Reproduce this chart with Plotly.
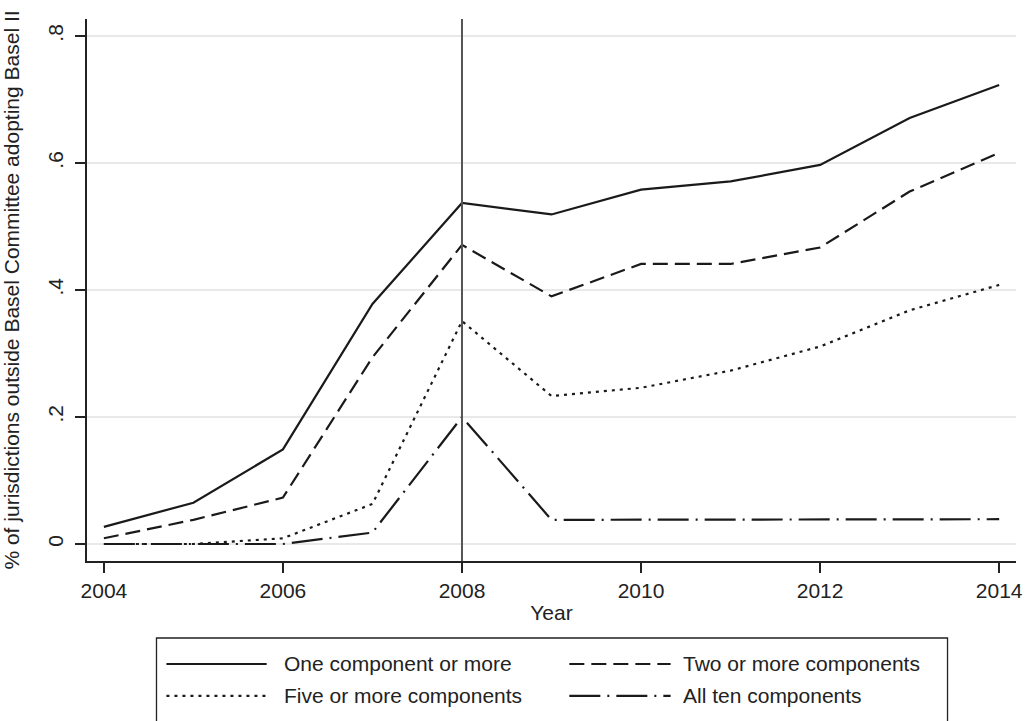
import plotly.graph_objects as go

years = [2004, 2005, 2006, 2007, 2008, 2009, 2010, 2011, 2012, 2013, 2014]
one_or_more = [0.027, 0.065, 0.149, 0.378, 0.537, 0.519, 0.558, 0.571, 0.597, 0.671, 0.723]
two_or_more = [0.009, 0.038, 0.073, 0.294, 0.471, 0.390, 0.441, 0.441, 0.467, 0.555, 0.616]
five_or_more = [0.0, 0.0, 0.009, 0.063, 0.351, 0.233, 0.246, 0.273, 0.311, 0.368, 0.408]
all_ten = [0.0, 0.0, 0.0, 0.018, 0.200, 0.038, 0.038, 0.038, 0.038, 0.039, 0.039]

series_names = ["One component or more", "Two or more components",
                "Five or more components", "All ten components"]
series_values = [one_or_more, two_or_more, five_or_more, all_ten]
dashes = ["solid", "15px,7px", "3px,5px", "31px,7px,2px,7px"]

x_ticks = [2004, 2006, 2008, 2010, 2012, 2014]
y_ticks = [0, 0.2, 0.4, 0.6, 0.8]
y_tick_labels = ["0", ".2", ".4", ".6", ".8"]
ref_year = 2008

FONT = "Liberation Sans, Arial, Helvetica, sans-serif"
INK = "#1a1a1a"
TXT = "#222222"

fig = go.Figure()
for name, vals, dash in zip(series_names, series_values, dashes):
    fig.add_trace(go.Scatter(x=years, y=vals, mode="lines", name=name,
                             line=dict(color=INK, width=2.2, dash=dash),
                             showlegend=False))

fig.add_shape(type="line", xref="x", yref="paper", x0=ref_year, x1=ref_year,
              y0=0, y1=1, line=dict(color="#555555", width=2))

# manual legend (Stata style box, 2 columns)
lx0, lx1, ly0, ly1 = 0.0748, 0.9263, -0.1421, -0.2970
fig.add_shape(type="rect", xref="paper", yref="paper", x0=lx0, x1=lx1, y0=ly0, y1=ly1,
              line=dict(color="#222222", width=1.3), fillcolor="rgba(0,0,0,0)")
cols = [(0.0855, 0.1934, 0.2094), (0.5192, 0.6282, 0.6389)]
rows = [-0.190, -0.249]
order = [(0, 0), (1, 0), (0, 1), (1, 1)]  # (col,row) for each series
for (ci, ri), name, dash in zip(order, series_names, dashes):
    a, b, t = cols[ci]
    yy = rows[ri]
    fig.add_shape(type="line", xref="paper", yref="paper", x0=a, x1=b, y0=yy, y1=yy,
                  line=dict(color=INK, width=2.2, dash=dash))
    fig.add_annotation(xref="paper", yref="paper", x=t, y=yy, text=name,
                       showarrow=False, xanchor="left", yanchor="middle",
                       font=dict(family=FONT, size=21, color=TXT))

fig.update_layout(
    width=1031, height=721,
    margin=dict(l=87, r=8, t=19, b=160),
    paper_bgcolor="white", plot_bgcolor="white",
    font=dict(family=FONT, size=21, color=TXT),
    showlegend=False,
    xaxis=dict(range=[2003.8115, 2014.188], tickvals=x_ticks,
               showgrid=False, zeroline=False,
               showline=True, linecolor="#222222", linewidth=1.5,
               ticks="outside", ticklen=10, tickwidth=1.5, tickcolor="#222222",
               tickfont=dict(family=FONT, size=21, color=TXT),
               title=dict(text="Year", standoff=4,
                          font=dict(family=FONT, size=21, color=TXT))),
    yaxis=dict(range=[-0.0268, 0.8268], tickvals=y_ticks, ticktext=y_tick_labels,
               tickangle=-90, showgrid=True, gridcolor="#e9e9e9", gridwidth=2,
               zeroline=False,
               showline=True, linecolor="#222222", linewidth=1.5,
               ticks="outside", ticklen=10, tickwidth=1.5, tickcolor="#222222",
               ticklabelstandoff=4,
               tickfont=dict(family=FONT, size=21, color=TXT),
               title=dict(text="% of jurisdictions outside Basel Committee adopting Basel II",
                          standoff=20, font=dict(family=FONT, size=21, color=TXT))),
)

fig.write_html("out.html",
               config={"displayModeBar": False},
               post_script="document.body.style.margin='0';document.body.style.overflow='hidden';")
